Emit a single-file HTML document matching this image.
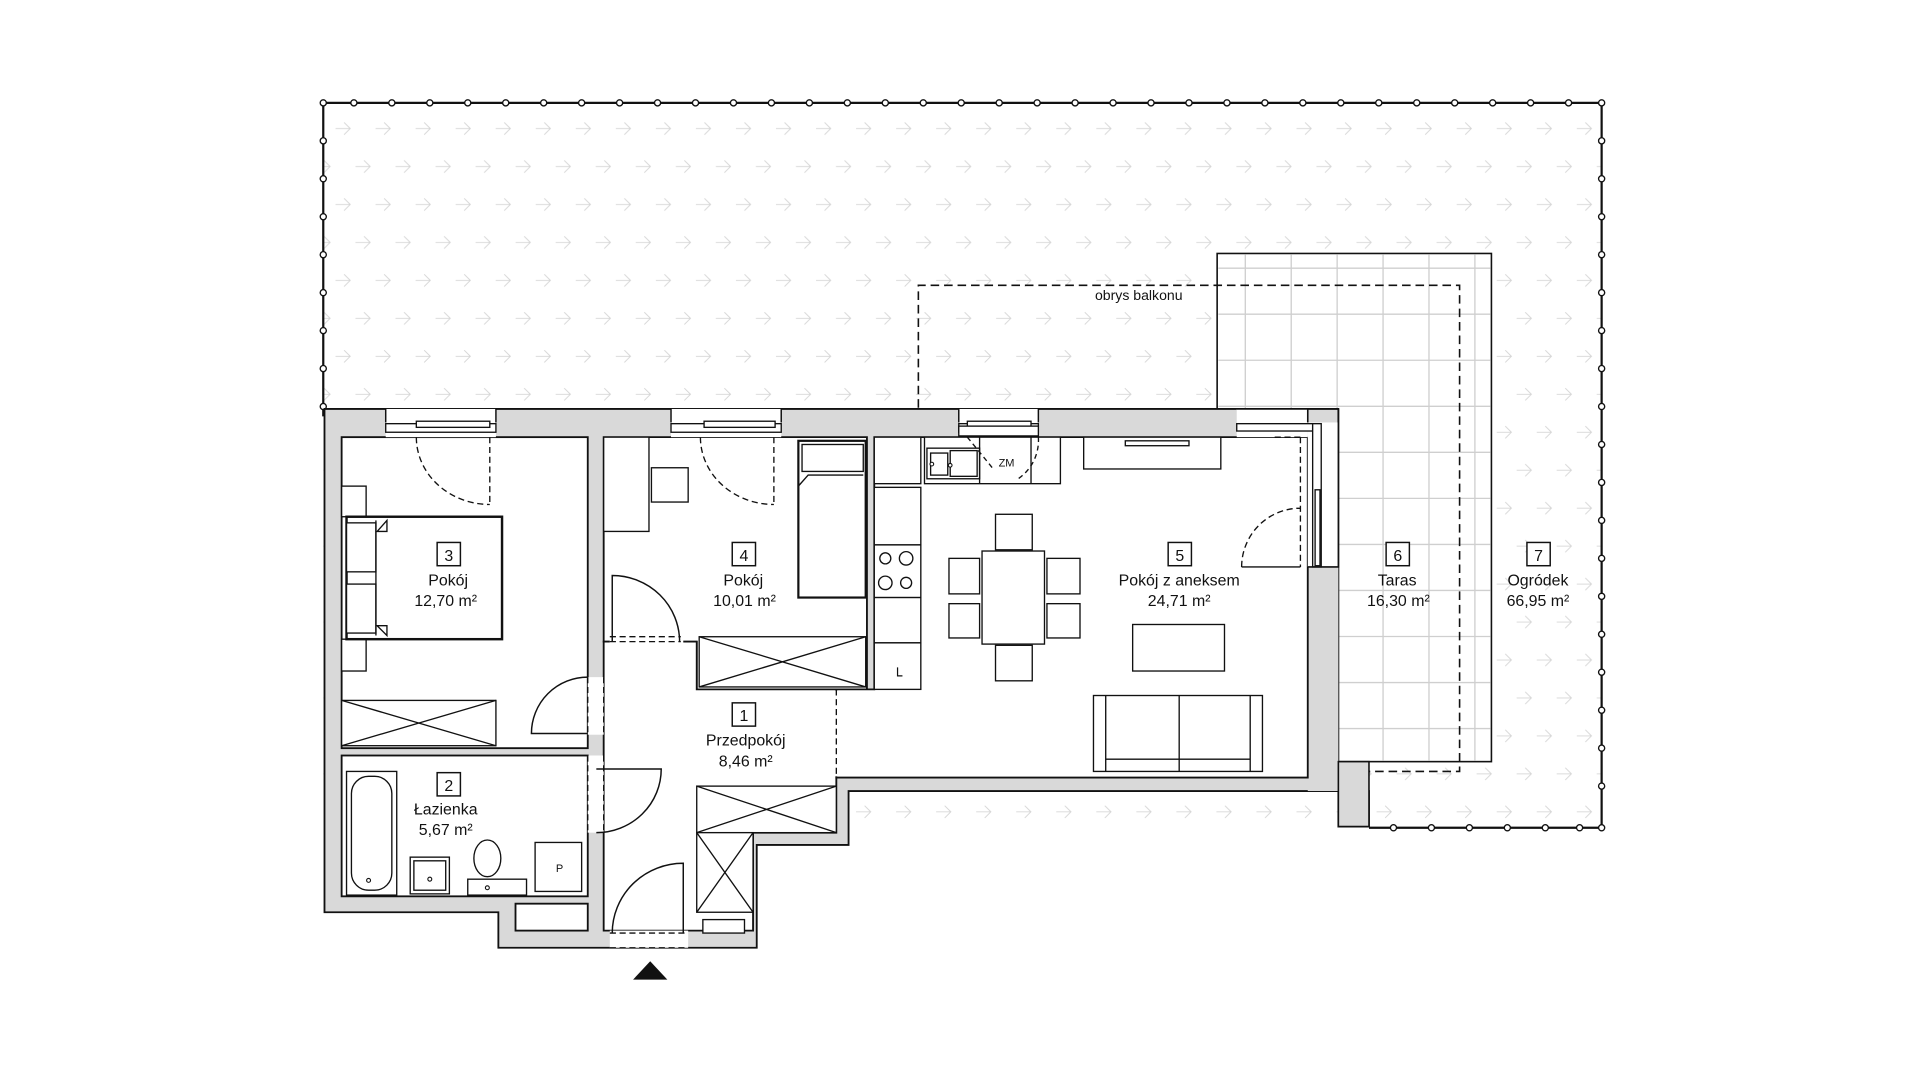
<!DOCTYPE html>
<html><head><meta charset="utf-8"><style>
html,body{margin:0;padding:0;background:#fff;width:1920px;height:1080px;overflow:hidden}
svg{display:block}
text{font-family:"Liberation Sans",sans-serif;fill:#111}
</style></head><body>
<svg width="1920" height="1080" viewBox="0 0 1568 882" xmlns="http://www.w3.org/2000/svg">
<defs>
<pattern id="arr" x="272" y="97" width="32.7" height="62" patternUnits="userSpaceOnUse">
 <g fill="none" stroke="#d6d6d6" stroke-width="0.8">
  <path d="M2 8 H14 M9 3 L14 8 L9 13"/>
  <path d="M18.3 39 H30.3 M25.3 34 L30.3 39 L25.3 44"/>
 </g>
</pattern>
</defs>
<!-- garden -->
<rect x="264" y="84" width="1044" height="592" fill="url(#arr)"/>
<g stroke="#111" stroke-width="1.8" fill="none">
<path d="M264 340 V84 H1308 V676 H1118"/>
</g>
<g fill="#fff" stroke="#111" stroke-width="1.1">
<circle cx="264" cy="84" r="2.5"/>
<!-- dots top -->
<g id="dt"></g>
</g>
<g fill="#fff" stroke="#111" stroke-width="1.1">
<circle cx="289" cy="84" r="2.5"/><circle cx="320" cy="84" r="2.5"/><circle cx="351" cy="84" r="2.5"/><circle cx="382" cy="84" r="2.5"/><circle cx="413" cy="84" r="2.5"/><circle cx="444" cy="84" r="2.5"/><circle cx="475" cy="84" r="2.5"/><circle cx="506" cy="84" r="2.5"/><circle cx="537" cy="84" r="2.5"/><circle cx="568" cy="84" r="2.5"/><circle cx="599" cy="84" r="2.5"/><circle cx="630" cy="84" r="2.5"/><circle cx="661" cy="84" r="2.5"/><circle cx="692" cy="84" r="2.5"/><circle cx="723" cy="84" r="2.5"/><circle cx="754" cy="84" r="2.5"/><circle cx="785" cy="84" r="2.5"/><circle cx="816" cy="84" r="2.5"/><circle cx="847" cy="84" r="2.5"/><circle cx="878" cy="84" r="2.5"/><circle cx="909" cy="84" r="2.5"/><circle cx="940" cy="84" r="2.5"/><circle cx="971" cy="84" r="2.5"/><circle cx="1002" cy="84" r="2.5"/><circle cx="1033" cy="84" r="2.5"/><circle cx="1064" cy="84" r="2.5"/><circle cx="1095" cy="84" r="2.5"/><circle cx="1126" cy="84" r="2.5"/><circle cx="1157" cy="84" r="2.5"/><circle cx="1188" cy="84" r="2.5"/><circle cx="1219" cy="84" r="2.5"/><circle cx="1250" cy="84" r="2.5"/><circle cx="1281" cy="84" r="2.5"/><circle cx="1308" cy="84" r="2.5"/>
<circle cx="264" cy="115" r="2.5"/><circle cx="264" cy="146" r="2.5"/><circle cx="264" cy="177" r="2.5"/><circle cx="264" cy="208" r="2.5"/><circle cx="264" cy="239" r="2.5"/><circle cx="264" cy="270" r="2.5"/><circle cx="264" cy="301" r="2.5"/><circle cx="264" cy="332" r="2.5"/>
<circle cx="1308" cy="115" r="2.5"/><circle cx="1308" cy="146" r="2.5"/><circle cx="1308" cy="177" r="2.5"/><circle cx="1308" cy="208" r="2.5"/><circle cx="1308" cy="239" r="2.5"/><circle cx="1308" cy="270" r="2.5"/><circle cx="1308" cy="301" r="2.5"/><circle cx="1308" cy="332" r="2.5"/><circle cx="1308" cy="363" r="2.5"/><circle cx="1308" cy="394" r="2.5"/><circle cx="1308" cy="425" r="2.5"/><circle cx="1308" cy="456" r="2.5"/><circle cx="1308" cy="487" r="2.5"/><circle cx="1308" cy="518" r="2.5"/><circle cx="1308" cy="549" r="2.5"/><circle cx="1308" cy="580" r="2.5"/><circle cx="1308" cy="611" r="2.5"/><circle cx="1308" cy="642" r="2.5"/><circle cx="1308" cy="676" r="2.5"/>
<circle cx="1138" cy="676" r="2.5"/><circle cx="1169" cy="676" r="2.5"/><circle cx="1200" cy="676" r="2.5"/><circle cx="1231" cy="676" r="2.5"/><circle cx="1262" cy="676" r="2.5"/><circle cx="1290" cy="676" r="2.5"/>
</g>
<!-- terrace -->
<rect x="994" y="207" width="224" height="415" fill="#fff" stroke="#111" stroke-width="1.3"/>
<g stroke="#cfcfcf" stroke-width="1.1">
<path d="M1017 208 V621 M1054.5 208 V621 M1092 208 V621 M1129.5 208 V621 M1167 208 V621 M1204.5 208 V621"/>
<path d="M995 219 H1217 M995 256.6 H1217 M995 294.2 H1217 M995 331.8 H1217 M995 369.4 H1217 M995 407 H1217 M995 444.6 H1217 M995 482.2 H1217 M995 519.8 H1217 M995 557.4 H1217 M995 595 H1217"/>
</g>
<!-- balcony outline -->
<path d="M750 333 V233 H1192 V630 H1118" fill="none" stroke="#111" stroke-width="1.3" stroke-dasharray="7 4"/>
<text x="930" y="245" font-size="11.5" text-anchor="middle">obrys balkonu</text>
<!-- building walls -->
<path d="M265 334 H1093 V646 H1118 V675 H1093 V646 H693 V690 H618 V774 H407 V745 H265 Z" fill="#d9d9d9" stroke="#111" stroke-width="1.5"/>
<rect x="1068" y="463" width="25" height="183" fill="#d9d9d9"/>
<rect x="1093" y="622" width="25" height="53" fill="#d9d9d9" stroke="#111" stroke-width="1.3"/>
<!-- rooms -->
<g fill="#fff" stroke="#111" stroke-width="1.5">
<rect x="279" y="357" width="201" height="254"/>
<rect x="279" y="617" width="201" height="115"/>
<path d="M493 357 H708 V563 H569 V524 H493 Z"/>
<path d="M493 524 H569 V563 H683 V680 H615 V760 H493 Z"/>
<path d="M714 357 H1068 V635 H683 V563 H714 Z"/>
<rect x="421" y="738" width="59" height="22"/>
<rect x="498" y="760" width="64" height="14" stroke="none"/>
<rect x="1068" y="345" width="25" height="118" stroke="none"/>
</g>
<!-- openings (white) -->
<g fill="#fff">
<rect x="480" y="553" width="13" height="47"/>
<rect x="480" y="617" width="13" height="63"/>
<rect x="498" y="518" width="60" height="8"/>
<rect x="681" y="564" width="5" height="70"/>
<rect x="315" y="334" width="90" height="23"/><rect x="548" y="334" width="90" height="23"/><rect x="783" y="334" width="65" height="23"/><rect x="1010" y="334" width="58" height="23"/>
</g>
<g fill="none" stroke="#111" stroke-width="1.1" stroke-dasharray="5 3">
<path d="M480 553 V600 M493 553 V600"/>
<path d="M480 617 V680 M493 617 V680"/>
<path d="M498 520 H556 M498 524 H556"/>
<path d="M683 563 V635"/>
<path d="M498 762 H562 M498 774 H562"/>
</g>
<!-- windows -->
<g fill="#fff" stroke="#111" stroke-width="1.1">
<rect x="315" y="346" width="90" height="7"/><rect x="340" y="344" width="60" height="5"/>
<rect x="548" y="346" width="90" height="7"/><rect x="575" y="344" width="58" height="5"/>
<rect x="783" y="346" width="65" height="7"/><rect x="790" y="344" width="52" height="5"/>
<rect x="1010" y="346" width="62" height="6"/>
<rect x="1072" y="346" width="7" height="117"/><rect x="1074" y="400" width="4" height="62"/>
</g>
<path d="M1010 334 H1068 V345 M1068 463 H1093 V334" fill="none" stroke="#111" stroke-width="1.3"/>
<path d="M315 334 V345 M405 334 V345 M548 334 V345 M638 334 V345 M783 334 V345 M848 334 V345" stroke="#111" stroke-width="1.2"/>
<!-- doors -->
<g fill="none" stroke="#111" stroke-width="1.1" stroke-dasharray="5 3">
<path d="M400 357 V412 M340 357 A60 55 0 0 0 400 412"/>
<path d="M632 357 V412 M572 357 A60 55 0 0 0 632 412"/>
<path d="M1062 357 H1040 M1062 357 V463 M1014 463 A48 48 0 0 1 1062 415"/>
</g>
<g fill="none" stroke="#111" stroke-width="1.2">
<path d="M500 524 V470 A55 54 0 0 1 555 524"/>
<path d="M480 599 H434 A46 46 0 0 1 480 553"/>
<path d="M487 628 H540 A53 52 0 0 1 487 680"/>
<path d="M558 762 V705 A58 57 0 0 0 500 762"/>
<path d="M1014 463 H1062"/>
</g>
<!-- furniture room 3 -->
<g fill="#fff" stroke="#111" stroke-width="1.1">
<rect x="279" y="397" width="20" height="25"/><rect x="279" y="522" width="20" height="26"/>
<rect x="283" y="422" width="127" height="100" stroke-width="2"/>
<rect x="283" y="427" width="24" height="40"/><rect x="283" y="477" width="24" height="40"/>
<path d="M307 425 V519" /><path d="M308 434 L316 425 V434 Z M308 511 L316 519 V511 Z"/>
<rect x="279" y="572" width="126" height="37"/>
<path d="M279 572 L405 609 M279 609 L405 572" fill="none"/>
<!-- room 4 -->
<rect x="493" y="357" width="37" height="77"/>
<rect x="532" y="382" width="30" height="28"/>
<rect x="652" y="360" width="55" height="128" stroke-width="1.8"/>
<rect x="655" y="363" width="50" height="22"/>
<path d="M652 397 L660 388 H705" fill="none"/>
<rect x="571" y="520" width="136" height="41"/>
<path d="M571 520 L707 561 M571 561 L707 520" fill="none"/>
<!-- hall closets -->
<rect x="569" y="642" width="114" height="38"/>
<path d="M569 642 L683 680 M569 680 L683 642" fill="none"/>
<rect x="569" y="680" width="46" height="65"/>
<path d="M569 680 L615 745 M569 745 L615 680" fill="none"/>
<rect x="574" y="751" width="34" height="11"/>
<!-- kitchen -->
<rect x="714" y="357" width="38" height="38"/>
<rect x="714" y="398" width="38" height="47"/>
<rect x="714" y="445" width="38" height="43"/>
<rect x="714" y="488" width="38" height="37"/>
<rect x="714" y="525" width="38" height="38"/>
<circle cx="723" cy="456" r="4.5"/><circle cx="740" cy="456" r="5.5"/><circle cx="723" cy="476" r="5.5"/><circle cx="740" cy="476" r="4.5"/>
<rect x="755" y="357" width="111" height="38"/>
<rect x="757" y="366" width="43" height="25"/><rect x="760" y="370" width="14" height="18"/><rect x="776" y="368" width="22" height="21"/>
<path d="M800 357 V395 M842 357 V395" fill="none"/>
<rect x="885" y="357" width="112" height="26"/>
<rect x="919" y="360" width="52" height="4"/>
<rect x="783" y="348" width="65" height="8"/>
<path d="M790 357 L812 384 M848 357 A38 38 0 0 1 830 392" fill="none" stroke-dasharray="4 3"/>
<!-- dining -->
<rect x="802" y="450" width="51" height="76"/>
<rect x="813" y="420" width="30" height="29"/><rect x="813" y="527" width="30" height="29"/>
<rect x="775" y="456" width="25" height="29"/><rect x="775" y="493" width="25" height="28"/>
<rect x="855" y="456" width="27" height="29"/><rect x="855" y="493" width="27" height="28"/>
<rect x="925" y="510" width="75" height="38"/>
<rect x="893" y="568" width="138" height="62"/>
<path d="M903 568 V630 M1021 568 V630 M963 568 V630 M903 620 H1021" fill="none"/>
<!-- bath -->
<rect x="283" y="630" width="41" height="101"/>
<rect x="287" y="634" width="33" height="93" rx="14"/>
<rect x="335" y="700" width="32" height="30"/><rect x="338" y="703" width="26" height="24"/>
<ellipse cx="398" cy="701" rx="11" ry="15"/>
<rect x="382" y="718" width="48" height="13"/>
<rect x="437" y="688" width="38" height="40"/>
</g>
<g fill="#fff" stroke="#111" stroke-width="0.9">
<circle cx="301" cy="719" r="1.6"/><circle cx="351" cy="718" r="1.6"/><circle cx="398" cy="725" r="1.6"/>
<circle cx="761" cy="379" r="1.5"/><circle cx="776" cy="380" r="1.5"/>
</g>
<text x="457" y="712" font-size="9" text-anchor="middle">P</text>
<text x="822" y="381" font-size="9" text-anchor="middle">ZM</text>
<path d="M733 545 V552 H737" fill="none" stroke="#111" stroke-width="1"/>
<!-- labels -->
<g fill="#fff" stroke="#111" stroke-width="1.2">
<rect x="357" y="443" width="19" height="19"/>
<rect x="598" y="443" width="19" height="19"/>
<rect x="954" y="443" width="19" height="19"/>
<rect x="1132" y="443" width="19" height="19"/>
<rect x="1247" y="443" width="19" height="19"/>
<rect x="598" y="574" width="19" height="19"/>
<rect x="357" y="631" width="19" height="19"/>
</g>
<g font-size="13" text-anchor="middle">
<text x="366.5" y="458">3</text><text x="366" y="478">Pokój</text><text x="364" y="495">12,70 m²</text>
<text x="607.5" y="458">4</text><text x="607" y="478">Pokój</text><text x="608" y="495">10,01 m²</text>
<text x="963.5" y="458">5</text><text x="963" y="478">Pokój z aneksem</text><text x="963" y="495">24,71 m²</text>
<text x="1141.5" y="458">6</text><text x="1141" y="478">Taras</text><text x="1142" y="495">16,30 m²</text>
<text x="1256.5" y="458">7</text><text x="1256" y="478">Ogródek</text><text x="1256" y="495">66,95 m²</text>
<text x="607.5" y="589">1</text><text x="609" y="609">Przedpokój</text><text x="609" y="626">8,46 m²</text>
<text x="366.5" y="646">2</text><text x="364" y="665">Łazienka</text><text x="364" y="682">5,67 m²</text>
</g>
<path d="M517 800 L531 785 L545 800 Z" fill="#111"/>
</svg>
</body></html>
